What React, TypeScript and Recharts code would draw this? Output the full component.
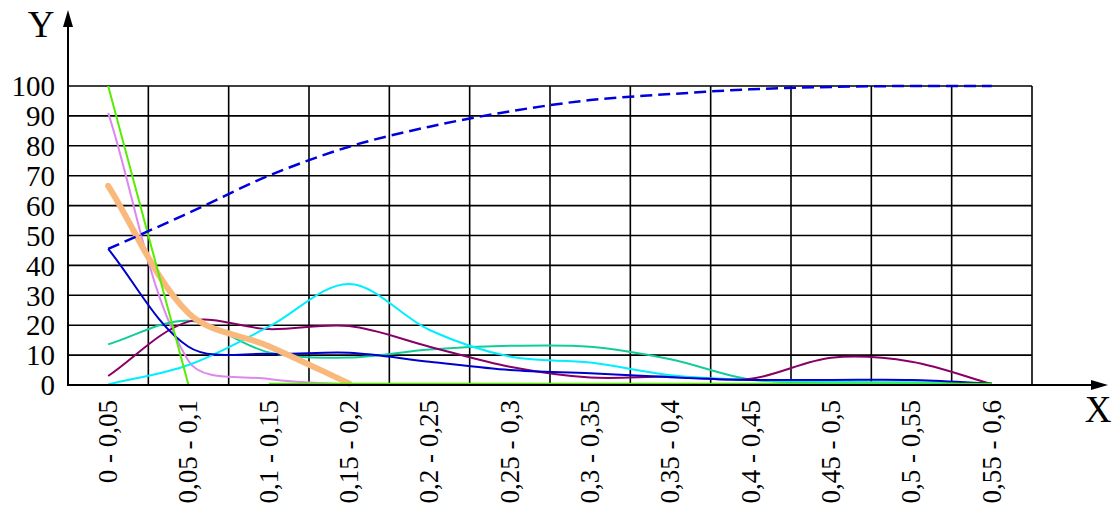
import React from 'react';
import { LineChart, Line, XAxis, YAxis, CartesianGrid } from 'recharts';

// interval labels along X
const CATEGORIES = [
  '0 - 0,05', '0,05 - 0,1', '0,1 - 0,15', '0,15 - 0,2', '0,2 - 0,25', '0,25 - 0,3',
  '0,3 - 0,35', '0,35 - 0,4', '0,4 - 0,45', '0,45 - 0,5', '0,5 - 0,55', '0,55 - 0,6',
];

const Y_TICKS = [0, 10, 20, 30, 40, 50, 60, 70, 80, 90, 100];

const BLUE_DASHED = [45.5, 57.5, 70, 79.7, 86.4, 91.5, 95.3, 97.3, 98.9, 99.7, 100, 100];
const BLUE = [45.5, 12.8, 10.4, 10.8, 7.8, 5, 3.9, 2.6, 1.7, 1.7, 1.7, 0.5];
const LIME = [100, 0, null, null, null, null, null, null, null, null, null, null];
const LIME_TAIL = [null, null, 0.4, 0.4, 0.4, 0.4, 0.4, 0.4, 0.4, 0.4, 0.4, 0.4];
const VIOLET = [91, 8, 2, 0.3, 0, 0, 0, 0, 0, 0, 0, 0];
const ORANGE = [66.6, 24, 13, 0.5, null, null, null, null, null, null, null, null];
const CYAN = [0.2, 6.7, 19.5, 33.8, 18.4, 9.5, 7.5, 3.3, 1.7, 1, 0.8, 0.4];
const TEAL = [13.6, 21.5, 10.9, 9.2, 11.9, 13.1, 12.8, 8.6, 1.8, 1, 0.8, 0.4];
const PURPLE = [3, 21.2, 18.7, 19.7, 12.8, 6.1, 2.5, 2.8, 2.1, 9.1, 7.8, 0.3];

const data = CATEGORIES.map((cat, i) => ({
  cat,
  dashed: BLUE_DASHED[i],
  blue: BLUE[i],
  lime: LIME[i],
  limeTail: LIME_TAIL[i],
  violet: VIOLET[i],
  orange: ORANGE[i],
  cyan: CYAN[i],
  teal: TEAL[i],
  purple: PURPLE[i],
}));

// plot box in page pixels
const W = 1115;
const H = 512;
const LEFT = 68;
const TOP = 86;
const RIGHT = 1032;
const BOTTOM = 385;
const Y_AXIS_W = 60;
const X_AXIS_H = 120;
const HALF_BAND = (RIGHT - LEFT) / CATEGORIES.length / 2;

const SERIF = '"Liberation Serif", "DejaVu Serif", serif';

// spreadsheet-style smoothing: bezier through every point,
// tangents weighted by the neighbouring chord lengths
function smooth(context: any) {
  let xs: number[] = [];
  let ys: number[] = [];
  const dist = (a: number, b: number) => Math.hypot(xs[b] - xs[a], ys[b] - ys[a]);
  return {
    areaStart() {},
    areaEnd() {},
    lineStart() {
      xs = [];
      ys = [];
    },
    point(x: number, y: number) {
      xs.push(+x);
      ys.push(+y);
    },
    lineEnd() {
      const n = xs.length;
      if (!n) return;
      context.moveTo(xs[0], ys[0]);
      if (n === 1) {
        context.lineTo(xs[0], ys[0]);
        return;
      }
      for (let i = 0; i < n - 1; i++) {
        const a = i > 0 ? i - 1 : i;
        const d = i + 2 < n ? i + 2 : i + 1;
        const d0 = dist(a, i);
        const d1 = dist(i, i + 1);
        const d2 = dist(i + 1, d);
        const r1 = d0 + d1 > 0 ? d1 / (d0 + d1) / 3 : 0;
        const r2 = d1 + d2 > 0 ? d1 / (d1 + d2) / 3 : 0;
        const c1x = xs[i] + (xs[i + 1] - xs[a]) * r1;
        const c1y = ys[i] + (ys[i + 1] - ys[a]) * r1;
        const c2x = xs[i + 1] - (xs[d] - xs[i]) * r2;
        const c2y = ys[i + 1] - (ys[d] - ys[i]) * r2;
        context.bezierCurveTo(c1x, c1y, c2x, c2y, xs[i + 1], ys[i + 1]);
      }
    },
  };
}

function XTick(props: any) {
  const { x, y, payload } = props;
  return (
    <text
      x={x}
      y={y}
      transform={`rotate(-90, ${x}, ${y})`}
      textAnchor="end"
      dy="0.33em"
      fontFamily={SERIF}
      fontSize={27}
      fill="#000"
    >
      {payload.value}
    </text>
  );
}

function bandLines({ offset }: any) {
  const out: number[] = [];
  for (let i = 1; i <= CATEGORIES.length; i++) {
    out.push(offset.left + (i * offset.width) / CATEGORIES.length);
  }
  return out;
}

export default function App() {
  const common = { dot: false, activeDot: false, isAnimationActive: false, type: smooth as any };
  return (
    <div style={{ position: 'absolute', left: 0, top: 0, width: W, height: H, background: '#fff', fontFamily: SERIF }}>
      <LineChart
        width={W}
        height={H}
        data={data}
        margin={{ top: TOP, right: W - RIGHT, bottom: H - BOTTOM - X_AXIS_H, left: LEFT - Y_AXIS_W }}
      >
        <CartesianGrid stroke="#000" strokeWidth={1.6} verticalCoordinatesGenerator={bandLines} />
        <XAxis
          dataKey="cat"
          type="category"
          interval={0}
          height={X_AXIS_H}
          padding={{ left: HALF_BAND, right: HALF_BAND }}
          axisLine={false}
          tickLine={false}
          tickSize={0}
          tickMargin={15}
          tick={<XTick />}
        />
        <YAxis
          type="number"
          domain={[0, 100]}
          ticks={Y_TICKS}
          interval={0}
          width={Y_AXIS_W}
          axisLine={false}
          tickLine={false}
          tickSize={0}
          tickMargin={13}
          tick={{ fontFamily: SERIF, fontSize: 29, fill: '#000' }}
        />
        <Line {...common} dataKey="violet" stroke="#dd88ee" strokeWidth={2} />
        <Line {...common} dataKey="teal" stroke="#11cc99" strokeWidth={2} />
        <Line {...common} dataKey="purple" stroke="#880066" strokeWidth={2} />
        <Line {...common} dataKey="cyan" stroke="#00eeff" strokeWidth={2} />
        <Line {...common} dataKey="blue" stroke="#0000cc" strokeWidth={2} />
        <Line {...common} dataKey="orange" stroke="#f9b97c" strokeWidth={6} strokeLinecap="round" />
        <Line {...common} dataKey="lime" stroke="#55ee00" strokeWidth={2} />
        <Line {...common} dataKey="limeTail" stroke="#55ee00" strokeWidth={2} />
        <Line {...common} dataKey="dashed" stroke="#0000dd" strokeWidth={2.5} strokeDasharray="12 6" />
      </LineChart>
      <svg width={W} height={H} style={{ position: 'absolute', left: 0, top: 0, pointerEvents: 'none' }}>
        <line x1={LEFT} y1={BOTTOM + 1} x2={LEFT} y2={24} stroke="#000" strokeWidth={2} />
        <polygon points={`${LEFT},10 ${LEFT - 5},27 ${LEFT + 5},27`} fill="#000" />
        <line x1={LEFT - 1} y1={BOTTOM} x2={1094} y2={BOTTOM} stroke="#000" strokeWidth={2} />
        <polygon points={`1108,${BOTTOM} 1091,${BOTTOM - 5} 1091,${BOTTOM + 5}`} fill="#000" />
        <text x={41} y={37} textAnchor="middle" fontFamily={SERIF} fontSize={37} fill="#000">Y</text>
        <text x={1098} y={422} textAnchor="middle" fontFamily={SERIF} fontSize={37} fill="#000">X</text>
      </svg>
    </div>
  );
}
